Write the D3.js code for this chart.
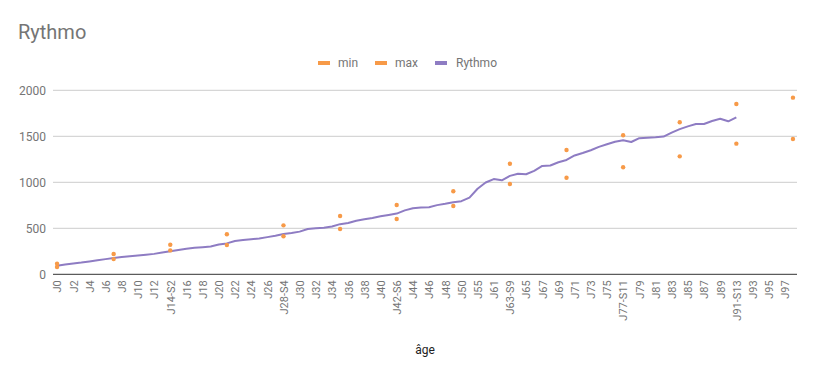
<!DOCTYPE html>
<html>
<head>
<meta charset="utf-8">
<script src="https://cdn.jsdelivr.net/npm/d3@7"></script>
<style>
  html, body { margin: 0; padding: 0; background: #fff; }
  svg { display: block; font-family: Roboto, "Noto Sans", Arial, sans-serif; }
</style>
</head>
<body>
<svg id="chart" width="815" height="377"></svg>
<script>
// ---- Data ----
const categories = [];
for (let d = 0; d <= 50; d++) {
  const weeks = {7: "S1", 14: "S2", 21: "S3", 28: "S4", 35: "S5", 42: "S6", 49: "S7"};
  categories.push(weeks[d] ? "J" + d + "-" + weeks[d] : "J" + d);
}
categories.push("J52", "J55", "J57", "J61", "J62", "J63-S9");
for (let d = 64; d <= 98; d++) {
  const weeks = {70: "S10", 77: "S11", 84: "S12", 91: "S13", 98: "S14"};
  categories.push(weeks[d] ? "J" + d + "-" + weeks[d] : "J" + d);
}

const rythmo = [
  94, 107, 118, 128, 140, 152, 165, 178, 188, 197,
  205, 213, 222, 236, 250, 264, 278, 289, 295, 302,
  323, 336, 362, 372, 381, 390, 404, 418, 437, 448,
  464, 492, 500, 505, 520, 545, 558, 583, 598, 612,
  630, 645, 660, 695, 718, 726, 728, 752, 766, 783,
  795, 833, 930, 998, 1035, 1022, 1070, 1092, 1088, 1125,
  1178, 1183, 1218, 1243, 1292, 1318, 1348, 1385, 1413, 1441,
  1456, 1438, 1480, 1485, 1490, 1497, 1540, 1578, 1608, 1633,
  1634, 1666, 1690, 1663, 1706
];

// min / max given every 7 categories (index -> value)
const minIdx = [0, 7, 14, 21, 28, 35, 42, 49, 56, 63, 70, 77, 84, 91];
const minVals = [80, 165, 260, 318, 413, 492, 601, 742, 982, 1050, 1163, 1282, 1420, 1471];
const maxVals = [115, 220, 322, 435, 532, 634, 753, 902, 1202, 1351, 1511, 1652, 1851, 1920];

const yTicks = [0, 500, 1000, 1500, 2000];
const seriesNames = ["min", "max", "Rythmo"];

// ---- Layout ----
const svg = d3.select("#chart");
const plotLeft = 53, plotRight = 797, plotTop = 90.3, plotBottom = 274.3;
const orange = "#f79a48", purple = "#8e7cc3";
const gray = "#757575";

const x = d3.scalePoint().domain(categories).range([plotLeft, plotRight]).padding(0.5);
const y = d3.scaleLinear().domain([0, 2000]).range([plotBottom, plotTop]);

// Title
svg.append("text").attr("x", 18).attr("y", 38.5)
  .attr("font-size", 20).attr("fill", gray).text("Rythmo");

// Grid
svg.append("g").selectAll("line").data(yTicks.filter(d => d > 0)).join("line")
  .attr("x1", plotLeft).attr("x2", plotRight)
  .attr("y1", d => y(d)).attr("y2", d => y(d))
  .attr("stroke", "#cccccc").attr("stroke-width", 1);

// Y axis labels
const yAxis = d3.axisLeft(y).tickValues(yTicks).tickFormat(d3.format("d")).tickSize(0).tickPadding(7);
const gy = svg.append("g").attr("transform", `translate(${plotLeft},0)`).call(yAxis);
gy.select(".domain").remove();
gy.selectAll("text").attr("font-size", 12).attr("fill", gray)
  .attr("font-family", "Roboto, sans-serif");

// X axis
const labelCats = categories.filter((d, i) => i % 2 === 0);
const xAxis = d3.axisBottom(x).tickValues(labelCats).tickSize(0).tickPadding(0);
const gx = svg.append("g").attr("transform", `translate(0,${plotBottom})`).call(xAxis);
gx.select(".domain").remove();
gx.selectAll("text")
  .attr("font-size", 11).attr("fill", gray)
  .attr("font-family", "Roboto, sans-serif")
  .attr("text-anchor", "end")
  .attr("transform", "rotate(-90)")
  .attr("x", -6).attr("y", 0).attr("dy", "0.35em");

svg.append("line").attr("x1", plotLeft).attr("x2", plotRight)
  .attr("y1", plotBottom).attr("y2", plotBottom)
  .attr("stroke", "#333333").attr("stroke-width", 1);

// X axis title
svg.append("text").attr("x", 425).attr("y", 354).attr("text-anchor", "middle")
  .attr("font-size", 12).attr("fill", "#222222").text("âge");

// Line
const line = d3.line().x((d, i) => x(categories[i])).y(d => y(d));
svg.append("path").datum(rythmo)
  .attr("d", line).attr("fill", "none")
  .attr("stroke", purple).attr("stroke-width", 2).attr("stroke-linejoin", "round");

// Dots
const dots = svg.append("g");
dots.selectAll("circle.min").data(minIdx).join("circle").attr("class", "min")
  .attr("cx", d => x(categories[d])).attr("cy", (d, i) => y(minVals[i]))
  .attr("r", 2.2).attr("fill", orange);
dots.selectAll("circle.max").data(minIdx).join("circle").attr("class", "max")
  .attr("cx", d => x(categories[d])).attr("cy", (d, i) => y(maxVals[i]))
  .attr("r", 2.2).attr("fill", orange);

// Legend
const legendItems = [
  {name: seriesNames[0], color: orange, sx: 318, tx: 338},
  {name: seriesNames[1], color: orange, sx: 375, tx: 395},
  {name: seriesNames[2], color: purple, sx: 435, tx: 456}
];
const lg = svg.append("g");
lg.selectAll("rect").data(legendItems).join("rect")
  .attr("x", d => d.sx).attr("y", 61).attr("width", 12).attr("height", 4)
  .attr("fill", d => d.color);
lg.selectAll("text").data(legendItems).join("text")
  .attr("x", d => d.tx).attr("y", 63).attr("dy", "0.35em")
  .attr("font-size", 12).attr("fill", gray).text(d => d.name);
</script>
</body>
</html>
